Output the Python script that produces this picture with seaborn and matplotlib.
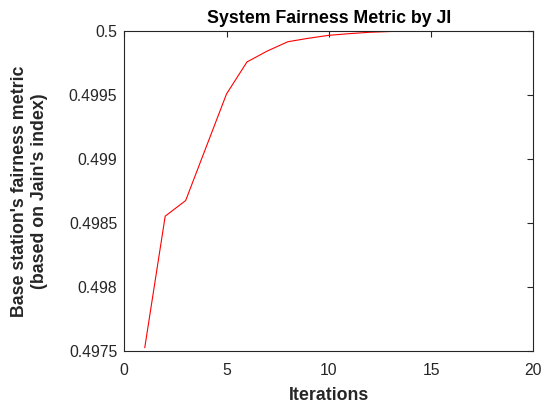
import matplotlib
matplotlib.use("Agg")
import matplotlib.pyplot as plt
import matplotlib.ticker as mticker
import pandas as pd
import seaborn as sns

# Jain's index per iteration
iterations = [1, 2, 3, 4, 5, 6, 7, 8, 9, 10, 11, 12, 13, 14, 15, 16, 17, 18, 19]
fairness = [0.497523, 0.498552, 0.498674, 0.499091, 0.499508, 0.499758,
            0.499844, 0.499916, 0.499943, 0.499966, 0.499979, 0.499990,
            0.499996, 0.499998, 0.499999, 0.500000, 0.500000, 0.500000, 0.500000]

x_ticks = [0, 5, 10, 15, 20]
y_ticks = [0.4975, 0.498, 0.4985, 0.499, 0.4995, 0.5]

sns.set_theme(style="white")
plt.rcParams["font.family"] = ["Liberation Sans", "DejaVu Sans"]

df = pd.DataFrame({"Iterations": iterations, "JI": fairness})

fig = plt.figure(figsize=(5.49, 4.05), dpi=100)
ax = fig.add_axes([0.2264, 0.1341, 0.9714 - 0.2264, 0.9235 - 0.1341])

sns.lineplot(data=df, x="Iterations", y="JI", ax=ax, color="#ff0000",
             linewidth=0.8)

ax.set_xlim(0, 20)
ax.set_ylim(0.4975, 0.5)
ax.set_xticks(x_ticks)
ax.set_yticks(y_ticks)
ax.yaxis.set_major_formatter(mticker.FuncFormatter(lambda v, p: f"{v:g}"))

ax.tick_params(direction="in", length=4, width=0.8, colors="#262626",
               labelsize=11.3, top=True, right=True)
ax.tick_params(axis="x", pad=9)
ax.tick_params(axis="y", pad=5)
for s in ax.spines.values():
    s.set_color("#262626")
    s.set_linewidth(0.8)

ax.set_xlabel("Iterations", fontsize=12.8, fontweight="bold", color="#262626",
              labelpad=6)
ax.set_ylabel("Base station's fairness metric\n(based on Jain's index)",
              fontsize=12.8, fontweight="bold", color="#262626", labelpad=15)
ax.set_title("System Fairness Metric by JI", fontsize=12.8, fontweight="bold",
             color="#000000", pad=6)

fig.savefig("out.png", dpi=100)
